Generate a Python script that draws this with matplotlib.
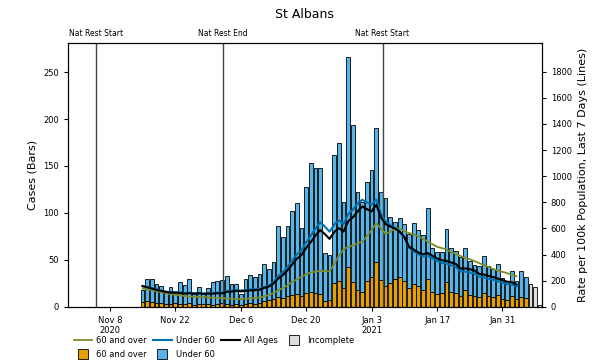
import matplotlib.pyplot as plt
import pandas as pd
from matplotlib.lines import Line2D

# daily cases (bars), first bar on 15 Nov 2020
first_day = "2020-11-15"
cases_over60 = [5, 6, 5, 4, 4, 3, 3, 4, 3, 3, 4, 2, 3, 3,
                3, 2, 3, 4, 3, 2, 3, 2, 3, 4, 3, 4,
                6, 7, 8, 10, 9, 12, 13, 14, 12, 15,
                16, 15, 14, 6, 7, 25, 28, 20, 42,
                26, 18, 16, 28, 32, 48,
                29, 22, 25, 30, 32, 28, 20, 24, 22, 18,
                30, 16, 14, 15, 26, 16, 15, 12, 18, 13,
                12, 10, 15, 12, 11, 13, 8, 7, 12, 8, 10, 9]
cases_under60 = [13, 24, 25, 20, 18, 14, 18, 13, 23, 20, 26, 13, 18, 12,
                 17, 24, 24, 25, 30, 22, 21, 12, 27, 30, 29, 31,
                 40, 33, 40, 76, 65, 74, 89, 97, 72, 113,
                 137, 133, 134, 51, 48, 137, 146, 92, 224,
                 168, 104, 96, 105, 114, 142,
                 93, 94, 71, 60, 63, 60, 58, 65, 60, 58,
                 75, 47, 44, 43, 57, 47, 44, 41, 45, 36,
                 33, 34, 39, 32, 29, 33, 23, 21, 26, 20, 28, 23]
cases_incomplete = [24, 21, 2]

# rate per 100k, last 7 days (lines)
rate_over60 = [140, 135, 128, 120, 112, 105, 98, 92, 88, 84, 80, 78, 76, 75,
               72, 70, 68, 66, 64, 62, 60, 60, 62, 64, 68, 72,
               80, 90, 105, 125, 145, 165, 190, 210, 230, 250,
               262, 270, 275, 273, 270, 330, 390, 440, 460,
               470, 485, 500, 540, 590, 640,
               600, 560, 575, 600, 600, 580, 565, 555, 540, 520,
               500, 480, 460, 450, 440, 420, 405, 390, 375, 365,
               350, 335, 320, 305, 290, 278, 268, 258, 245, 235]
rate_under60 = [160, 152, 142, 132, 124, 116,
                112, 111, 110, 105, 108, 104, 107, 103, 105, 106, 109, 108,
                120, 123, 129, 125, 128, 133, 135, 137, 152, 163, 188,
                235, 265, 305, 355, 402, 432, 492, 545, 600, 648, 615, 575,
                630, 662, 632, 710, 745, 790, 820, 800, 782, 822,
                712, 650, 625, 605, 575, 532, 452, 426, 402, 386, 392, 372,
                352, 338, 332, 318, 306, 272, 270, 263, 255, 232, 225, 215,
                207, 197, 185, 175, 170, 155]
rate_all = [158, 150, 140, 130, 122, 114,
            109, 108, 106, 101, 105, 100, 103, 99, 101, 101, 104, 103,
            115, 117, 123, 119, 122, 126, 128, 130, 145, 155, 178,
            216, 243, 279, 324, 368, 397, 451, 496, 546, 588, 557, 520,
            572, 603, 576, 655, 686, 730, 768, 748, 730, 782,
            685, 633, 615, 600, 575, 536, 461, 438, 416, 402, 412, 391,
            371, 357, 353, 340, 329, 294, 294, 288, 279, 253, 247, 237,
            228, 217, 204, 193, 189, 171]

restriction_dates = ["2020-11-05", "2020-12-02 06:00", "2021-01-05 08:00"]
restriction_labels = ["Nat Rest Start", "Nat Rest End", "Nat Rest Start"]

tick_dates = ["2020-11-08", "2020-11-22", "2020-12-06", "2020-12-20",
              "2021-01-03", "2021-01-17", "2021-01-31"]
tick_labels = ["Nov 8\n2020", "Nov 22", "Dec 6", "Dec 20",
               "Jan 3\n2021", "Jan 17", "Jan 31"]

c_over = "#E69F00"
c_under = "#56B4E9"
c_under_line = "#0072B2"
c_over_line = "#7d8c2c"
c_incomplete = "#dedede"

days = pd.date_range(first_day, periods=len(cases_over60))
days_incomplete = pd.date_range(days[-1] + pd.Timedelta(days=1),
                                periods=len(cases_incomplete))
days_rate = pd.date_range(first_day, periods=len(rate_all))

fig = plt.figure(figsize=(6, 3.64), dpi=100)
ax = fig.add_axes([0.113, 0.157, 0.79, 0.725])

ax.bar(days, cases_over60, width=0.8, color=c_over, edgecolor="black", linewidth=0.6)
ax.bar(days, cases_under60, width=0.8, bottom=cases_over60, color=c_under,
       edgecolor="black", linewidth=0.6)
ax.bar(days_incomplete, cases_incomplete, width=0.8, color=c_incomplete,
       edgecolor="black", linewidth=0.6)

for d, lab in zip(restriction_dates, restriction_labels):
    ax.axvline(pd.Timestamp(d), color="#444444", linewidth=1.0)
    ax.text(pd.Timestamp(d), 1.02, lab, transform=ax.get_xaxis_transform(),
            ha="center", va="bottom", fontsize=5.5)

ax.set_xlim(pd.Timestamp("2020-10-30"), pd.Timestamp("2021-02-08 10:00"))
ax.set_ylim(0, 281)
ax.set_yticks([0, 50, 100, 150, 200, 250])
ax.set_xticks(pd.to_datetime(tick_dates))
ax.set_xticklabels(tick_labels)
ax.tick_params(labelsize=6, length=3)
ax.set_ylabel("Cases (Bars)", fontsize=8)

ax2 = ax.twinx()
ax2.plot(days_rate, rate_over60, color=c_over_line, linewidth=1.3)
ax2.plot(days_rate, rate_under60, color=c_under_line, linewidth=1.5)
ax2.plot(days_rate, rate_all, color="black", linewidth=1.5)
ax2.set_ylim(0, 2020)
ax2.set_yticks(range(0, 1801, 200))
ax2.tick_params(labelsize=6, length=3)
ax2.set_ylabel("Rate per 100k Population, Last 7 Days (Lines)", fontsize=8)

ax.set_title("St Albans", fontsize=9, pad=18)


def box(color):
    return Line2D([], [], marker="s", markersize=7, markerfacecolor=color,
                  markeredgecolor="black", markeredgewidth=0.6, linestyle="none")


handles = [
    Line2D([], [], color=c_over_line, linewidth=1.3),
    box(c_over),
    Line2D([], [], color=c_under_line, linewidth=1.5),
    box(c_under),
    Line2D([], [], color="black", linewidth=1.5),
    box(c_incomplete),
]
labels = ["60 and over", "60 and over", "Under 60", "Under 60", "All Ages", "Incomplete"]
fig.legend(handles, labels, loc="upper left", bbox_to_anchor=(0.11, 0.098),
           ncol=4, frameon=False, fontsize=6, handlelength=2.2,
           columnspacing=0.8, handletextpad=0.5, labelspacing=0.6)

fig.savefig("out.png", dpi=100)
